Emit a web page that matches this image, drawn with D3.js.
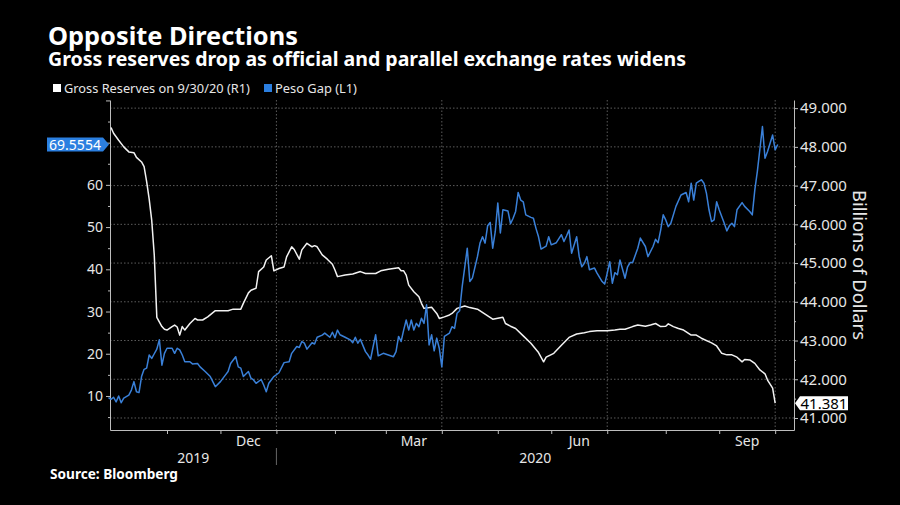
<!DOCTYPE html>
<html><head><meta charset="utf-8">
<script src="https://cdn.jsdelivr.net/npm/d3@7"></script>
<style>body{margin:0;background:#000;} svg{display:block;}</style>
</head><body>
<svg id="c" width="900" height="505"></svg>
<script>
// ---------- DATA ----------
const reserveDates = ["2019-10-02","2019-10-03","2019-10-07","2019-10-09","2019-10-11","2019-10-15","2019-10-16","2019-10-18","2019-10-21","2019-10-22","2019-10-23","2019-10-24","2019-10-25","2019-10-28","2019-10-30","2019-10-31","2019-11-01","2019-11-05","2019-11-06","2019-11-07","2019-11-08","2019-11-11","2019-11-12","2019-11-14","2019-11-18","2019-11-19","2019-11-21","2019-11-25","2019-11-28","2019-12-02","2019-12-05","2019-12-09","2019-12-12","2019-12-13","2019-12-17","2019-12-18","2019-12-20","2019-12-23","2019-12-25","2019-12-26","2019-12-30","2019-12-31","2020-01-02","2020-01-06","2020-01-07","2020-01-09","2020-01-10","2020-01-14","2020-01-15","2020-01-17","2020-01-21","2020-01-22","2020-01-23","2020-01-27","2020-01-29","2020-01-31","2020-02-03","2020-02-04","2020-02-07","2020-02-12","2020-02-17","2020-02-19","2020-02-25","2020-02-27","2020-03-03","2020-03-09","2020-03-10","2020-03-11","2020-03-12","2020-03-13","2020-03-17","2020-03-19","2020-03-20","2020-03-23","2020-03-26","2020-03-30","2020-03-31","2020-04-02","2020-04-06","2020-04-07","2020-04-09","2020-04-14","2020-04-16","2020-04-21","2020-04-24","2020-04-29","2020-05-05","2020-05-06","2020-05-08","2020-05-12","2020-05-15","2020-05-20","2020-05-25","2020-05-27","2020-05-28","2020-06-02","2020-06-05","2020-06-10","2020-06-15","2020-06-18","2020-06-22","2020-06-25","2020-07-01","2020-07-06","2020-07-08","2020-07-10","2020-07-15","2020-07-17","2020-07-22","2020-07-24","2020-07-28","2020-07-30","2020-08-03","2020-08-04","2020-08-06","2020-08-10","2020-08-12","2020-08-17","2020-08-19","2020-08-21","2020-08-27","2020-08-31","2020-09-02","2020-09-04","2020-09-08","2020-09-10","2020-09-14","2020-09-15","2020-09-17","2020-09-21","2020-09-23","2020-09-25","2020-09-28","2020-09-30","2020-10-01"];
const reserveValues = [48.50,48.35,48.17,48.00,47.87,47.85,47.73,47.61,47.49,47.10,46.65,46.10,45.20,43.60,43.36,43.29,43.27,43.36,43.40,43.35,43.14,43.36,43.27,43.44,43.57,43.53,43.53,43.61,43.77,43.77,43.77,43.81,43.81,43.96,44.23,44.30,44.35,44.78,44.90,45.08,45.19,44.80,44.86,44.90,45.16,45.42,45.35,45.10,45.34,45.51,45.42,45.45,45.42,45.21,45.10,44.97,44.82,44.65,44.69,44.72,44.78,44.73,44.73,44.80,44.84,44.88,44.80,44.80,44.69,44.43,44.26,44.13,43.96,43.83,43.86,43.70,43.57,43.61,43.66,43.70,43.83,43.89,43.85,43.81,43.68,43.55,43.60,43.44,43.37,43.31,43.12,42.93,42.69,42.45,42.57,42.67,42.88,43.08,43.17,43.20,43.23,43.25,43.25,43.27,43.29,43.29,43.36,43.40,43.37,43.40,43.44,43.36,43.37,43.43,43.36,43.31,43.27,43.14,43.14,43.06,42.94,42.86,42.67,42.63,42.63,42.57,42.45,42.51,42.50,42.41,42.24,42.14,41.98,41.77,41.381];

const gapDates = ["2019-10-01","2019-10-02","2019-10-03","2019-10-04","2019-10-07","2019-10-08","2019-10-09","2019-10-11","2019-10-14","2019-10-15","2019-10-16","2019-10-17","2019-10-18","2019-10-21","2019-10-22","2019-10-23","2019-10-24","2019-10-25","2019-10-28","2019-10-29","2019-10-30","2019-10-31","2019-11-01","2019-11-05","2019-11-06","2019-11-07","2019-11-08","2019-11-11","2019-11-12","2019-11-14","2019-11-15","2019-11-19","2019-11-20","2019-11-22","2019-11-26","2019-11-28","2019-12-02","2019-12-04","2019-12-05","2019-12-06","2019-12-10","2019-12-11","2019-12-12","2019-12-13","2019-12-17","2019-12-18","2019-12-19","2019-12-20","2019-12-24","2019-12-25","2019-12-26","2019-12-27","2019-12-31","2020-01-02","2020-01-06","2020-01-08","2020-01-09","2020-01-13","2020-01-14","2020-01-15","2020-01-16","2020-01-17","2020-01-21","2020-01-22","2020-01-23","2020-01-27","2020-01-28","2020-01-30","2020-01-31","2020-02-03","2020-02-04","2020-02-05","2020-02-07","2020-02-11","2020-02-12","2020-02-13","2020-02-14","2020-02-17","2020-02-19","2020-02-20","2020-02-21","2020-02-24","2020-02-25","2020-02-26","2020-02-28","2020-03-03","2020-03-05","2020-03-06","2020-03-09","2020-03-10","2020-03-11","2020-03-12","2020-03-13","2020-03-16","2020-03-17","2020-03-18","2020-03-19","2020-03-20","2020-03-23","2020-03-24","2020-03-25","2020-03-26","2020-03-27","2020-03-30","2020-03-31","2020-04-01","2020-04-02","2020-04-06","2020-04-07","2020-04-08","2020-04-09","2020-04-10","2020-04-13","2020-04-15","2020-04-16","2020-04-17","2020-04-21","2020-04-22","2020-04-23","2020-04-24","2020-04-27","2020-04-28","2020-04-29","2020-04-30","2020-05-01","2020-05-04","2020-05-05","2020-05-07","2020-05-08","2020-05-11","2020-05-12","2020-05-13","2020-05-14","2020-05-15","2020-05-18","2020-05-20","2020-05-21","2020-05-22","2020-05-25","2020-05-26","2020-05-28","2020-05-29","2020-06-01","2020-06-03","2020-06-05","2020-06-08","2020-06-09","2020-06-10","2020-06-11","2020-06-15","2020-06-16","2020-06-17","2020-06-18","2020-06-19","2020-06-22","2020-06-24","2020-06-25","2020-06-29","2020-06-30","2020-07-01","2020-07-02","2020-07-03","2020-07-06","2020-07-07","2020-07-08","2020-07-10","2020-07-13","2020-07-14","2020-07-15","2020-07-17","2020-07-20","2020-07-22","2020-07-23","2020-07-27","2020-07-28","2020-07-29","2020-07-30","2020-07-31","2020-08-03","2020-08-04","2020-08-05","2020-08-07","2020-08-11","2020-08-13","2020-08-14","2020-08-17","2020-08-18","2020-08-19","2020-08-20","2020-08-21","2020-08-24","2020-08-25","2020-08-26","2020-08-27","2020-08-28","2020-08-31","2020-09-01","2020-09-03","2020-09-04","2020-09-07","2020-09-08","2020-09-09","2020-09-10","2020-09-14","2020-09-15","2020-09-17","2020-09-18","2020-09-21","2020-09-22","2020-09-24","2020-09-25","2020-09-28","2020-09-30","2020-10-01","2020-10-02"];
const gapValues = [9.6,9.2,9.7,8.6,10.0,8.4,9.5,10.2,11.4,13.4,11.0,10.8,14.6,16.3,16.6,19.7,18.9,20.0,21.1,23.3,17.3,20.1,21.3,21.3,20.1,21.3,20.9,19.7,18.1,18.1,17.6,17.7,16.9,15.8,14.6,12.2,13.4,15.0,15.8,17.7,19.3,16.9,16.6,14.6,15.8,14.2,13.8,13.0,13.9,12.6,11.0,13.0,14.6,15.5,17.9,18.1,20.1,21.7,21.5,22.9,22.5,21.1,22.6,22.3,23.9,24.4,24.9,23.9,25.1,23.8,25.6,24.5,23.9,23.3,22.6,23.9,22.5,23.4,20.5,19.7,18.7,21.7,24.5,19.5,20.1,19.7,19.3,20.5,24.1,22.9,25.6,28.0,25.6,28.0,25.6,27.2,26.4,28.4,27.2,31.6,22.1,24.5,20.7,23.7,21.3,16.9,24.1,24.9,26.4,26.0,29.6,30.2,35.9,45.0,37.1,37.9,43.0,46.2,47.7,46.2,50.3,51.1,45.0,48.9,55.7,48.6,54.1,53.8,50.8,52.1,53.7,58.2,56.4,56.0,52.9,52.3,52.1,49.7,47.7,44.8,45.5,47.7,45.8,46.3,48.2,46.6,47.9,49.3,43.8,47.7,43.0,40.6,41.4,43.0,39.9,40.3,39.1,37.1,36.5,39.1,41.8,36.7,39.2,38.7,42.2,37.9,40.6,41.6,41.6,45.0,47.4,45.4,43.0,45.4,47.1,46.3,49.3,52.9,51.7,50.1,50.9,54.9,57.6,58.2,56.0,60.4,56.4,60.4,60.8,61.2,60.4,58.0,54.1,51.3,51.7,56.0,54.1,50.9,49.1,50.3,50.9,50.1,54.1,55.8,54.9,53.7,52.9,58.8,63.2,73.8,66.3,67.9,71.8,68.3,69.5554];

const leftTicks = [10,20,30,40,50,60,70,80];
const leftLabelled = [10,20,30,40,50,60];
const leftMinor = [5,15,25,35,45,55,65,75];
const rightTicks = [41,42,43,44,45,46,47,48,49];
const rightMinor = [41.5,42.5,43.5,44.5,45.5,46.5,47.5,48.5];
const monthTickDates = ["2019-11-01","2019-12-01","2020-01-01","2020-02-01","2020-03-01","2020-04-01","2020-05-01","2020-06-01","2020-07-01","2020-08-01","2020-09-01","2020-10-01"];
const quarterDates = ["2020-01-01","2020-04-01","2020-07-01","2020-10-01"];
const monthLabelDates = ["2019-12-01","2020-03-01","2020-06-01","2020-09-01"];
const monthLabels = ["Dec","Mar","Jun","Sep"];
const yearLabels = ["2019","2020"];
const titleText = "Opposite Directions";
const subtitleText = "Gross reserves drop as official and parallel exchange rates widens";
const seriesNames = ["Gross Reserves on 9/30/20 (R1)","Peso Gap (L1)"];
const lastGap = 69.5554, lastRes = 41.381;

// ---------- SETUP ----------
const svg = d3.select('#c');
const W=900,H=505;
const FONT = "'Noto Sans', 'Open Sans', sans-serif";
const BLUE = '#3a80d8', TAGBLUE = '#2b7fe0', GRID = '#5c5c5c', AXIS = '#bdbdbd', TXT = '#e6e6e6';
svg.append('rect').attr('width',W).attr('height',H).attr('fill','#000');

const parse = d3.timeParse('%Y-%m-%d');
const start = parse('2019-10-01');
function biz(d){ let n=0; for(const t of d3.timeDay.range(start,d)){const g=t.getDay(); if(g!==0&&g!==6) n++;} return n; }

const L=110,R=794,T=100,B=430;
const x = d3.scaleLinear().domain([0.6,269.4]).range([L,R]);
const yL = d3.scaleLinear().domain([1.94,80.1]).range([B,T]);
const yR = d3.scaleLinear().domain([40.69,49.21]).range([B,T]);

function fit(sel, target){ const w=sel.node().getComputedTextLength(); const fs=parseFloat(sel.attr('font-size')); sel.attr('font-size', (fs*target/w).toFixed(2)); return sel; }

// ---------- TITLES ----------
fit(svg.append('text').attr('x',48).attr('y',45).attr('font-family',FONT).attr('font-weight','bold').attr('font-size',24).attr('fill','#fff').text(titleText),250);
fit(svg.append('text').attr('x',48).attr('y',66).attr('font-family',FONT).attr('font-weight','bold').attr('font-size',18).attr('fill','#fff').text(subtitleText),638);

// legend
svg.append('rect').attr('x',53).attr('y',84).attr('width',8).attr('height',8).attr('fill','#fff');
fit(svg.append('text').attr('x',64).attr('y',92.5).attr('font-family',FONT).attr('font-size',12.5).attr('fill',TXT).text(seriesNames[0]),186);
svg.append('rect').attr('x',264).attr('y',84).attr('width',8).attr('height',8).attr('fill',TAGBLUE);
fit(svg.append('text').attr('x',275).attr('y',92.5).attr('font-family',FONT).attr('font-size',12.5).attr('fill',TXT).text(seriesNames[1]),82);

// ---------- GRID ----------
const grid = svg.append('g');
grid.selectAll('line.h').data(rightTicks).join('line')
  .attr('x1',L).attr('x2',R).attr('y1',d=>yR(d)).attr('y2',d=>yR(d))
  .attr('stroke',GRID).attr('stroke-width',1).attr('stroke-dasharray','1.5,2');
grid.selectAll('line.v').data(quarterDates).join('line')
  .attr('x1',d=>x(biz(parse(d)))).attr('x2',d=>x(biz(parse(d)))).attr('y1',T).attr('y2',B)
  .attr('stroke',GRID).attr('stroke-width',1).attr('stroke-dasharray','1.5,2');

// ---------- AXES ----------
function styleAxis(g){ g.selectAll('path.domain').attr('stroke',AXIS).attr('stroke-width',1);
  g.selectAll('.tick line').attr('stroke',AXIS);
  g.selectAll('.tick text').attr('fill',TXT).attr('font-family',FONT); }

const gL = svg.append('g').attr('transform',`translate(${L},0)`)
  .call(d3.axisLeft(yL).tickValues(leftTicks).tickSize(4).tickSizeOuter(0).tickPadding(3)
    .tickFormat(d=> leftLabelled.includes(d)? d : ''));
styleAxis(gL); gL.selectAll('.tick text').attr('font-size',14);
const gLm = svg.append('g').attr('transform',`translate(${L},0)`)
  .call(d3.axisLeft(yL).tickValues(leftMinor).tickSize(2).tickFormat(''));
gLm.select('path.domain').remove(); styleAxis(gLm);

const gR = svg.append('g').attr('transform',`translate(${R},0)`)
  .call(d3.axisRight(yR).tickValues(rightTicks).tickSize(4).tickSizeOuter(0).tickPadding(2).tickFormat(d3.format('.3f')));
styleAxis(gR); gR.selectAll('.tick text').attr('font-size',15);
const gRm = svg.append('g').attr('transform',`translate(${R},0)`)
  .call(d3.axisRight(yR).tickValues(rightMinor).tickSize(2).tickFormat(''));
gRm.select('path.domain').remove(); styleAxis(gRm);

const gB = svg.append('g').attr('transform',`translate(0,${B})`)
  .call(d3.axisBottom(x).tickValues(monthTickDates.map(d=>biz(parse(d)))).tickSize(4).tickSizeOuter(0).tickFormat(''));
styleAxis(gB);

// month labels centred in their month
monthLabelDates.forEach((ds,i)=>{
  const d0 = parse(ds), d1 = d3.timeMonth.offset(d0,1);
  const cx = (x(biz(d0))+x(biz(d1)))/2;
  svg.append('text').attr('x',cx).attr('y',446).attr('text-anchor','middle')
    .attr('font-family',FONT).attr('font-size',14).attr('fill',TXT).text(monthLabels[i]);
});
// year labels
const xJan = x(biz(parse('2020-01-01')));
[[L,xJan],[xJan,R]].forEach((seg,i)=>{
  svg.append('text').attr('x',(seg[0]+seg[1])/2).attr('y',463).attr('text-anchor','middle')
    .attr('font-family',FONT).attr('font-size',14).attr('fill',TXT).text(yearLabels[i]);
});
svg.append('line').attr('x1',xJan).attr('x2',xJan).attr('y1',448).attr('y2',465).attr('stroke','#666');

// right axis title
const at = svg.append('text').attr('transform',`translate(853,${(T+B)/2}) rotate(90)`)
  .attr('text-anchor','middle').attr('font-family',FONT).attr('font-size',17).attr('fill',TXT).text('Billions of Dollars');
fit(at,150);

// ---------- LINES ----------
const resData = reserveDates.map((d,i)=>({i:biz(parse(d)), v:reserveValues[i]}));
const gapData = gapDates.map((d,i)=>({i:biz(parse(d)), v:gapValues[i]}));
svg.append('path').datum(resData).attr('fill','none').attr('stroke','#f2f2f2').attr('stroke-width',1.5)
  .attr('stroke-linejoin','round').attr('d',d3.line().x(d=>x(d.i)).y(d=>yR(d.v)));
svg.append('path').datum(gapData).attr('fill','none').attr('stroke',BLUE).attr('stroke-width',1.5)
  .attr('stroke-linejoin','round').attr('d',d3.line().x(d=>x(d.i)).y(d=>yL(d.v)));

// ---------- VALUE TAGS ----------
const gy = yL(lastGap);
svg.append('path').attr('d',`M47,${gy-7}H103L109,${gy}L103,${gy+7}H47Z`).attr('fill',TAGBLUE);
svg.append('text').attr('x',75).attr('y',gy+5).attr('text-anchor','middle').attr('font-family',FONT)
  .attr('font-size',14).attr('fill','#fff').text(d3.format('.4f')(lastGap));
const ry = yR(lastRes);
svg.append('path').attr('d',`M795,${ry}L800,${ry-7}H848V${ry+7}H800Z`).attr('fill','#fff');
svg.append('text').attr('x',824).attr('y',ry+5.5).attr('text-anchor','middle').attr('font-family',FONT)
  .attr('font-size',15).attr('fill','#000').text(d3.format('.3f')(lastRes));

// ---------- SOURCE ----------
fit(svg.append('text').attr('x',50).attr('y',479).attr('font-family',FONT).attr('font-weight','bold')
  .attr('font-size',13).attr('fill','#fff').text('Source: Bloomberg'),128);
</script>
</body></html>
